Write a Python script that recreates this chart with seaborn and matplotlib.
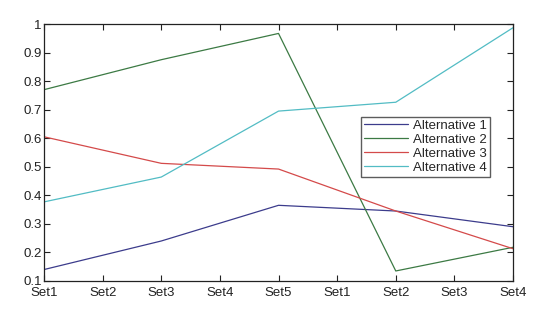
import pandas as pd
import seaborn as sns
import matplotlib.pyplot as plt

# data (points sit on every second tick)
tick_labels = ['Set1', 'Set2', 'Set3', 'Set4', 'Set5', 'Set1', 'Set2', 'Set3', 'Set4']
x_pos = [0, 2, 4, 6, 8]
alt1 = [0.14, 0.24, 0.365, 0.345, 0.29]
alt2 = [0.77, 0.875, 0.967, 0.135, 0.218]
alt3 = [0.605, 0.512, 0.492, 0.345, 0.213]
alt4 = [0.377, 0.464, 0.695, 0.726, 0.987]
names = ['Alternative 1', 'Alternative 2', 'Alternative 3', 'Alternative 4']
colors = ['#3c3c8c', '#3c7a44', '#d44a4a', '#52bcc4']

rows = []
for name, vals in zip(names, [alt1, alt2, alt3, alt4]):
    for x, v in zip(x_pos, vals):
        rows.append({'x': x, 'value': v, 'series': name})
df = pd.DataFrame(rows)

sns.set_style('ticks')
plt.rcParams['font.family'] = ['Liberation Sans', 'DejaVu Sans']
plt.rcParams['xtick.direction'] = 'in'
plt.rcParams['ytick.direction'] = 'in'

fig = plt.figure(figsize=(5.6, 3.29), dpi=100)
ax = fig.add_axes([0.0786, 0.146, 0.8375, 0.781])

sns.lineplot(data=df, x='x', y='value', hue='series', palette=colors,
             linewidth=0.9, ax=ax)

ax.set_xlim(0, 8)
ax.set_ylim(0.1, 1.0)
ax.set_xticks(range(len(tick_labels)))
ax.set_xticklabels(tick_labels)
ax.set_yticks([0.1, 0.2, 0.3, 0.4, 0.5, 0.6, 0.7, 0.8, 0.9, 1.0])
ax.set_yticklabels(['0.1', '0.2', '0.3', '0.4', '0.5', '0.6', '0.7', '0.8', '0.9', '1'])
ax.tick_params(labelsize=9.5, length=4, width=0.8, top=True, right=True,
               color='#222222', labelcolor='#222222', pad=1.5)
ax.tick_params(axis='x', pad=4.5)
ax.set_xlabel('')
ax.set_ylabel('')
for s in ax.spines.values():
    s.set_linewidth(0.9)
    s.set_color('#222222')

leg = ax.legend(loc='upper left', bbox_to_anchor=(0.676, 0.64), fontsize=9.5,
                frameon=True, fancybox=False, handlelength=3.3,
                borderpad=0.25, labelspacing=0.12, handletextpad=0.35,
                borderaxespad=0)
leg.get_frame().set_edgecolor('#333333')
leg.get_frame().set_linewidth(1.0)

fig.savefig('out.png', dpi=100)
